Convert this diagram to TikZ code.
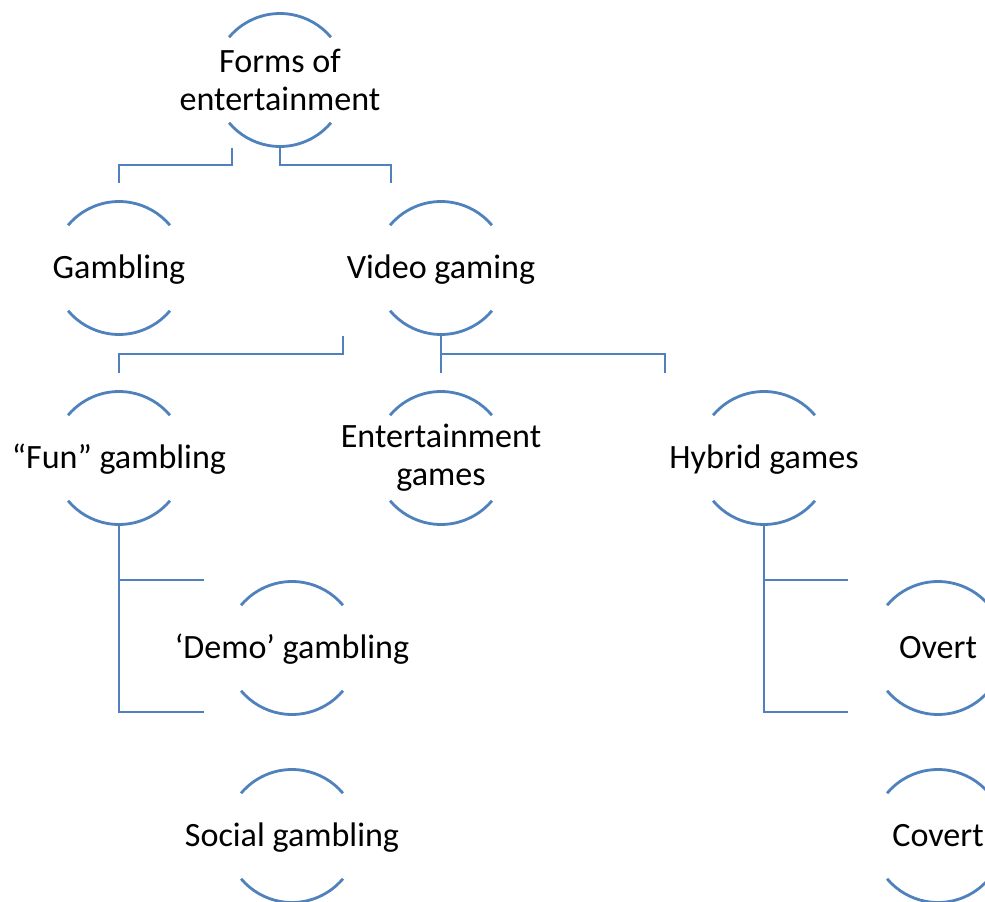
\documentclass[tikz,border=0pt]{standalone}
\usepackage{fontspec}
\setmainfont{Carlito}
\usepackage{xcolor}
\usepackage{tikz}
\definecolor{arcblue}{HTML}{4F81BD}
\definecolor{ink}{HTML}{000000}
\tikzset{
  ring/.style={draw=arcblue, line width=1.6pt},
  link/.style={draw=arcblue, line width=1.6pt},
  lab/.style={text=ink, font=\fontsize{19.4}{21.8}\selectfont, align=center, inner sep=0pt},
  labone/.style={lab, text height=13.6pt, text depth=1.9pt},
}

\begin{document}
\begin{tikzpicture}[x=0.02cm, y=-0.02cm]
  \def\r{66.5}
  \useasboundingbox (0,0) rectangle (985,902);
  \clip (0,0) rectangle (985,902);
  % nodes
  \node[lab] (forms) at (280,80) {Forms of\\entertainment};
  \node[labone] (gambling) at (119,268) {Gambling};
  \node[labone] (video) at (441,268) {Video gaming};
  \node[labone] (fun) at (119,458) {“Fun” gambling};
  \node[lab] (ent) at (441,458) {Entertainment\\games};
  \node[labone] (hybrid) at (764,458) {Hybrid games};
  \node[labone] (demo) at (292,648) {‘Demo’ gambling};
  \node[labone] (social) at (292,836) {Social gambling};
  \node[labone] (overt) at (938,648) {Overt};
  \node[labone] (covert) at (938,836) {Covert};
  % open circles
  \foreach \n in {forms,gambling,video,fun,ent,hybrid,demo,social,overt,covert}
    \draw[ring] ([shift={(40:\r)}]\n.center) arc[start angle=40, end angle=140, radius=\r]
                ([shift={(220:\r)}]\n.center) arc[start angle=220, end angle=320, radius=\r];
  % connectors
  \draw[link] ([shift={(-48,68)}]forms.center) -- ++(0,17) -| ([shift={(0,-85)}]gambling.center);
  \draw[link] ([shift={(0,67)}]forms.center) -- ++(0,18) -| ([shift={(-50,-85)}]video.center);
  \draw[link] ([shift={(-98,68)}]video.center) -- ++(0,18) -| ([shift={(0,-85)}]fun.center);
  \draw[link] ([shift={(0,67)}]video.center) -- ++(0,19) -| ([shift={(-99,-85)}]hybrid.center);
  \draw[link] ([shift={(0,67)}]video.center) -- ([shift={(0,-85)}]ent.center);
  \draw[link] ([shift={(0,67)}]fun.center) |- ([shift={(-88,-68)}]demo.center);
  \draw[link] ([shift={(0,67)}]fun.center) |- ([shift={(-88,-124)}]social.center);
  \draw[link] ([shift={(0,67)}]hybrid.center) |- ([shift={(-90,-68)}]overt.center);
  \draw[link] ([shift={(0,67)}]hybrid.center) |- ([shift={(-90,-124)}]covert.center);
\end{tikzpicture}
\end{document}
